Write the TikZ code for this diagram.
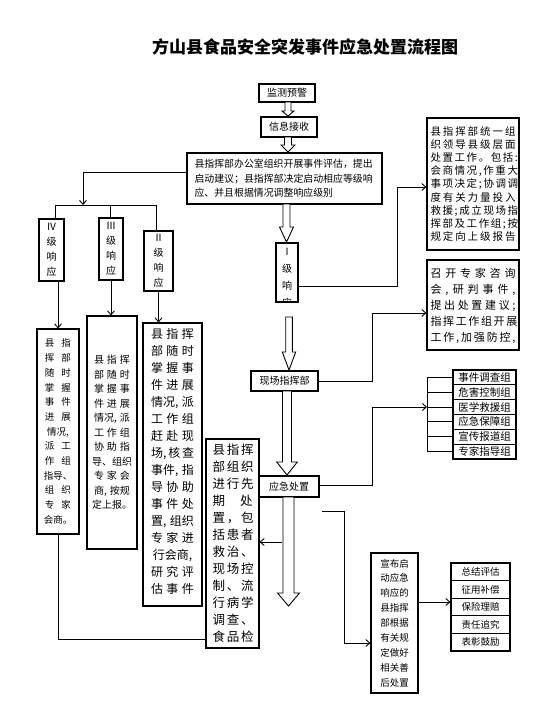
\documentclass[tikz,border=0pt]{standalone}
\usepackage{fontspec}
\setmainfont{Noto Sans CJK SC}
\usetikzlibrary{arrows.meta}
\newlength{\rowwd}
\newcommand{\rw}[1]{\makebox[\rowwd][s]{#1}}
\newcommand{\hollow}[6]{%
  \draw[fill=white,line width=0.9pt] ({#1-#5},#2) -- ({#1+#5},#2) -- ({#1+#5},#3) -- ({#1+#6},#3)
    -- (#1,#4) -- ({#1-#6},#3) -- ({#1-#5},#3) -- cycle;}
\begin{document}
\begin{tikzpicture}[
x=1pt,y=-1pt,
>={Straight Barb[length=4pt,width=7pt]},
box/.style={draw,line width=1.1pt,inner sep=0pt,fill=white,align=center},
conn/.style={line width=0.9pt},
every node/.style={font=\fontsize{10}{14}\selectfont}
]
\useasboundingbox (0,0) rectangle (559,710);
\fill[white] (0,0) rectangle (559,710);

\node[font=\bfseries\fontsize{17}{20}\selectfont] (title) at (305,47) {方山县食品安全突发事件应急处置流程图};

\node[box,minimum width=56pt,minimum height=18pt] (jc) at (287,93) {监测预警};
\node[box,minimum width=56pt,minimum height=20pt] (xx) at (289,127) {信息接收};
\node[box,minimum width=195pt,minimum height=51pt,text width=180pt,align=left,
  font=\fontsize{9.9}{14.5}\selectfont] (pg) at (284.5,178.5)
  {县指挥部办公室组织开展事件评估，提出\\启动建议；县指挥部决定启动相应等级响\\应、并且根据情况调整响应级别};

\node[box,minimum width=25pt,minimum height=62pt,font=\fontsize{10}{15}\selectfont] (r4) at (51.5,250) {Ⅳ\\级\\响\\应};
\node[box,minimum width=24pt,minimum height=62pt,font=\fontsize{10}{15}\selectfont] (r3) at (111,249) {Ⅲ\\级\\响\\应};
\node[box,minimum width=29pt,minimum height=60pt,font=\fontsize{10}{15}\selectfont] (r2) at (158.5,261) {Ⅱ\\级\\响\\应};

\node[box,minimum width=22pt,minimum height=59pt] (r1) at (287,272.5) {};
\begin{scope}
\clip (r1.north west) rectangle (r1.south east);
\node[anchor=north,align=center,inner sep=0pt,font=\fontsize{10}{17}\selectfont] (r1t) at (287,248) {Ⅰ\\级\\响\\应};
\end{scope}

\node[box,minimum width=67pt,minimum height=20pt] (xc) at (284.5,381) {现场指挥部};
\node[box,minimum width=60pt,minimum height=21pt] (yj) at (289,486.5) {应急处置};

\node[box,minimum width=42pt,minimum height=205pt,font=\fontsize{9.5}{14.7}\selectfont\setlength{\rowwd}{26pt}] (ta) at (58,431.5)
  {\rw{县 指}\\\rw{挥 部}\\\rw{随 时}\\\rw{掌 握}\\\rw{事 件}\\\rw{进 展}\\情况,\\\rw{派 工}\\\rw{作 组}\\指导、\\\rw{组 织}\\\rw{专 家}\\会商。};
\node[box,minimum width=50pt,minimum height=233pt,font=\fontsize{10}{14.5}\selectfont\setlength{\rowwd}{36pt}] (tb) at (112,432.5)
  {\rw{县 指 挥}\\\rw{部 随 时}\\\rw{掌 握 事}\\\rw{件 进 展}\\\rw{情况, 派}\\\rw{工 作 组}\\\rw{协 助 指}\\导、组织\\\rw{专 家 会}\\\rw{商, 按规}\\定上报。};
\node[box,minimum width=59pt,minimum height=283pt] (tc) at (172.5,464.5) {};
\node[anchor=north,align=center,inner sep=0pt,font=\fontsize{12}{17}\selectfont\setlength{\rowwd}{43pt}] (tct) at (172.5,328)
  {\rw{县 指 挥}\\\rw{部 随 时}\\\rw{掌 握 事}\\\rw{件 进 展}\\\rw{情况, 派}\\\rw{工 作 组}\\\rw{赶 赴 现}\\\rw{场, 核 查}\\\rw{事件, 指}\\\rw{导 协 助}\\\rw{事 件 处}\\\rw{置, 组织}\\\rw{专 家 进}\\行会商,\\\rw{研 究 评}\\\rw{估 事 件}};
\node[box,minimum width=53pt,minimum height=209pt,font=\fontsize{12.5}{17}\selectfont\setlength{\rowwd}{40pt}] (td) at (232.5,543.5)
  {\rw{县 指 挥}\\\rw{部 组 织}\\\rw{进 行 先}\\\rw{期 处}\\\rw{置 ， 包}\\\rw{括 患 者}\\\rw{救 治 、}\\\rw{现 场 控}\\\rw{制 、 流}\\\rw{行 病 学}\\\rw{调 查 、}\\\rw{食 品 检}};

\node[box,minimum width=92pt,minimum height=132pt,font=\fontsize{10.5}{13.1}\selectfont\setlength{\rowwd}{85pt}] (zh) at (473,184)
  {\rw{县 指 挥 部 统 一 组}\\\rw{织 领 导 县 级 层 面}\\\rw{处 置 工 作 。 包 括 :}\\\rw{会 商 情 况 , 作 重 大}\\\rw{事 项 决 定 ; 协 调 调}\\\rw{度 有 关 力 量 投 入}\\\rw{救 援 ; 成 立 现 场 指}\\\rw{挥 部 及 工 作 组 ; 按}\\\rw{规 定 向 上 级 报 告}};
\node[box,minimum width=92pt,minimum height=90pt] (zj) at (473,305) {};
\node[anchor=north,align=center,inner sep=0pt,font=\fontsize{11}{16}\selectfont\setlength{\rowwd}{85pt}] (zjt) at (473,268)
  {\rw{召 开 专 家 咨 询}\\\rw{会 , 研 判 事 件 ,}\\\rw{提 出 处 置 建 议 ;}\\\rw{指 挥 工 作 组 开 展}\\\rw{工 作 , 加 强 防 控 ,}};

\foreach \t [count=\i] in {事件调查组,危害控制组,医学救援组,应急保障组,宣传报道组,专家指导组}
  \node[box,minimum width=63pt,minimum height=14.83pt,font=\fontsize{10.5}{12}\selectfont] (g\i) at (484.5,{370+14.83*(\i-0.5)}) {\t};

\node[box,minimum width=47pt,minimum height=140pt,font=\fontsize{9.5}{14.9}\selectfont] (sh) at (394.5,623)
  {宣布启\\动应急\\响应的\\县指挥\\部根据\\有关规\\定做好\\相关善\\后处置};
\foreach \t [count=\i] in {总结评估,征用补偿,保险理赔,责任追究,表彰鼓励}
  \node[box,minimum width=59pt,minimum height=17.6pt,font=\fontsize{9.5}{12}\selectfont] (b\i) at (480.5,{563+17.6*(\i-0.5)}) {\t};

\hollow{288}{102}{111}{116}{3}{6}
\hollow{288}{137}{145}{152}{3.5}{7}
\hollow{286.5}{204}{227}{242}{3.5}{7}
\hollow{289}{317}{352}{370}{3.3}{6.7}
\hollow{287}{391}{462}{475}{4.5}{10.3}
\hollow{288.5}{497}{593}{606}{5.5}{11}

\coordinate (bl4) at (55,205);
\coordinate (bl3) at (110,205);
\coordinate (bl2) at (156,205);
\draw[conn,->] (pg.west |- 0,172) -| (83,205);
\draw[conn] (bl4) -- (bl2);
\draw[conn] (bl4) -- (bl4 |- r4.north);
\draw[conn] (bl3) -- (bl3 |- r3.north);
\draw[conn] (bl2) -- (bl2 |- r2.north);
\draw[conn,->] (r4.south -| ta.north) -- (ta.north);
\draw[conn,->] (r3.south) -- (r3.south |- tb.north);
\draw[conn,->] (r2.south) -- (r2.south |- tc.north);

\draw[conn,->] (r1.east |- 0,286) -| (397,187) -- (zh.west |- 0,187);
\draw[conn,->] (xc.east) -| (372,313) -- (zj.west |- 0,313);
\coordinate (brk) at (427,407);
\draw[conn,->] (yj.east |- 0,485) -| (372,407) -- (brk);
\draw[conn] (427,0 |- g1.west) -- (427,0 |- g6.west);
\foreach \i in {1,...,6}
  \draw[conn] (427,0 |- g\i.west) -- (g\i.west);

\coordinate (yjl) at (282,542);
\draw[conn,->] (yjl) -- (td.east |- yjl);
\draw[conn] (ta.south) -- (ta.south |- 0,639) -- (td.west |- 0,639);
\coordinate (yjr) at (322,511);
\draw[conn,->] (yjr) -- (344,511) -- (344,643) -- (sh.west |- 0,643);
\draw[conn,->] (sh.east |- 0,602) -- (b3.west |- 0,602);
\end{tikzpicture}
\end{document}
